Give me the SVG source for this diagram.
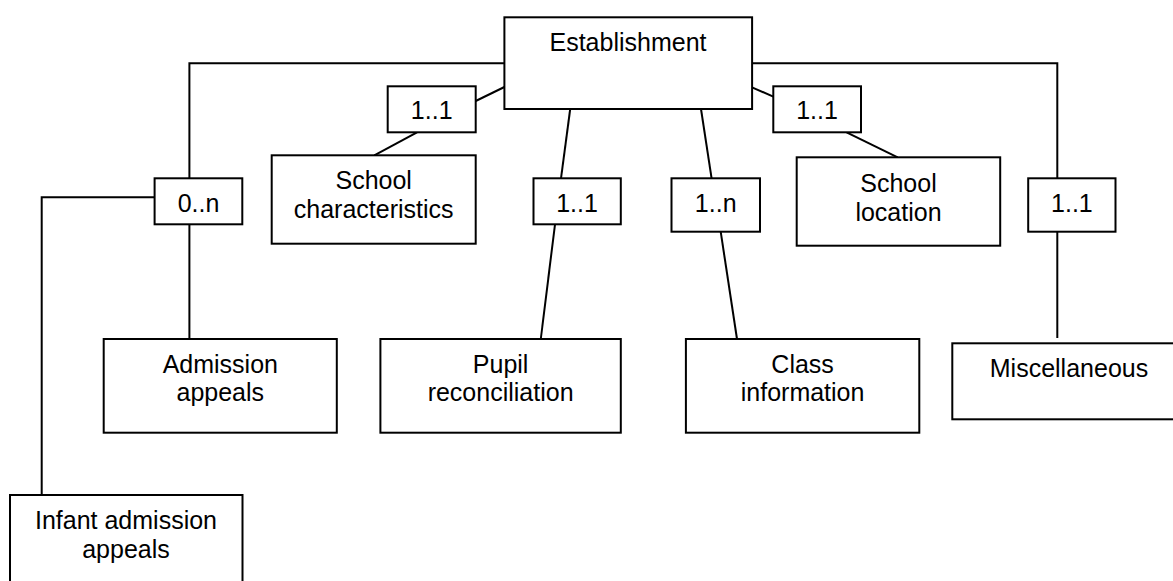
<svg xmlns="http://www.w3.org/2000/svg" width="1173" height="581" viewBox="0 0 1173 581">
<style>
rect{fill:#fff;stroke:#000;stroke-width:2}
#connectors line,#connectors polyline{fill:none;stroke:#000;stroke-width:2}
text{font-family:"Liberation Sans",Arial,sans-serif;font-size:25px;fill:#000;text-anchor:middle}
</style>
<rect x="0" y="0" width="1173" height="581" style="stroke:none"/>
<g id="connectors">
<polyline points="504.4,63.3 189.4,63.3 189.4,178.3"/>
<polyline points="752,63.3 1057.3,63.3 1057.3,178.3"/>
<line x1="504.4" y1="87" x2="475.7" y2="101"/>
<line x1="417" y1="132.3" x2="374.3" y2="155.3"/>
<line x1="752" y1="87.3" x2="773.3" y2="96.7"/>
<line x1="846.6" y1="132.3" x2="897.7" y2="157.3"/>
<line x1="570.2" y1="109" x2="561" y2="178.3"/>
<line x1="555" y1="224.3" x2="540.8" y2="339"/>
<line x1="701" y1="109" x2="711.6" y2="178.3"/>
<line x1="720.7" y1="231.7" x2="737" y2="339"/>
<line x1="1057.3" y1="231.7" x2="1057.3" y2="338"/>
<line x1="189.4" y1="224.3" x2="189.4" y2="339"/>
<polyline points="154.6,197.3 41.7,197.3 41.7,495"/>
</g>
<g id="establishment"><rect x="504.4" y="17.3" width="247.7" height="91.7"/><text x="628" y="50.7">Establishment</text></g>
<g id="m-schoolchar"><rect x="387.7" y="86.3" width="88" height="46"/><text x="431.7" y="119">1..1</text></g>
<g id="m-schoolloc"><rect x="773.3" y="86.3" width="87.7" height="46"/><text x="817" y="119">1..1</text></g>
<g id="schoolchar"><rect x="271.7" y="155.3" width="204" height="88.4"/><text x="373.7" y="189.3">School</text><text x="373.7" y="218.3">characteristics</text></g>
<g id="schoolloc"><rect x="796.7" y="157.3" width="203.5" height="88.4"/><text x="898.5" y="192.3">School</text><text x="898.5" y="220.7">location</text></g>
<g id="m-admission"><rect x="154.6" y="178.3" width="87.7" height="46"/><text x="198.5" y="212">0..n</text></g>
<g id="m-pupil"><rect x="533.5" y="178.3" width="87.3" height="46"/><text x="577" y="212">1..1</text></g>
<g id="m-class"><rect x="671.5" y="178.3" width="88.5" height="53.4"/><text x="715.7" y="212">1..n</text></g>
<g id="m-misc"><rect x="1028.2" y="178.3" width="87.3" height="53.4"/><text x="1071.9" y="212">1..1</text></g>
<g id="admission"><rect x="103.7" y="339" width="233.1" height="93.7"/><text x="220.3" y="372.7">Admission</text><text x="220.3" y="400.7">appeals</text></g>
<g id="pupil"><rect x="380.4" y="339" width="240.4" height="93.7"/><text x="500.6" y="372.7">Pupil</text><text x="500.6" y="400.7">reconciliation</text></g>
<g id="class"><rect x="685.9" y="339" width="233.4" height="93.7"/><text x="802.6" y="372.7">Class</text><text x="802.6" y="400.7">information</text></g>
<g id="misc"><rect x="952.3" y="343.3" width="240" height="76"/><text x="1069" y="376.7">Miscellaneous</text></g>
<g id="infant"><rect x="10" y="495" width="232.5" height="100"/><text x="126" y="529">Infant admission</text><text x="126" y="558">appeals</text></g>
</svg>
